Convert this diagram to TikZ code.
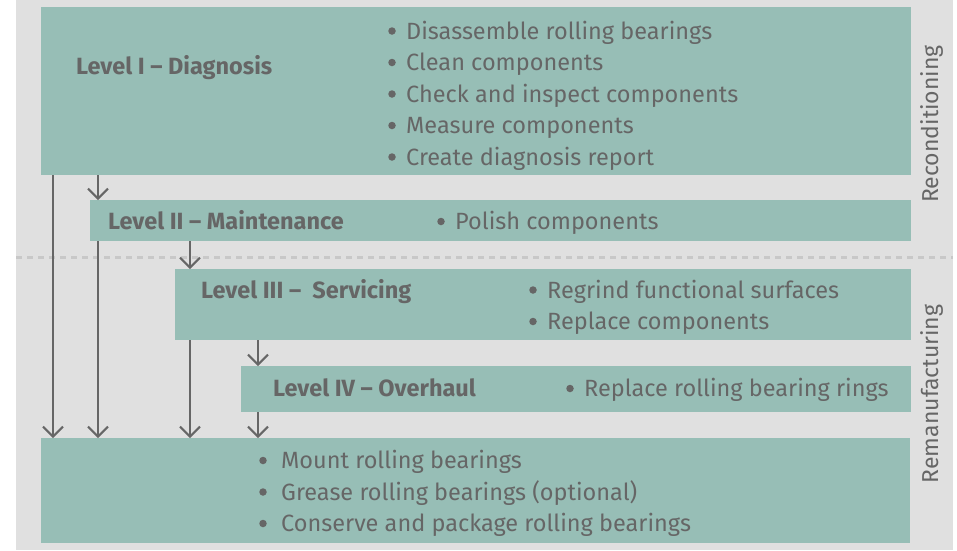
\documentclass[tikz,border=0pt]{standalone}
\usepackage{fontspec}
\setmainfont{Fira Sans}
\usetikzlibrary{arrows.meta}
\definecolor{bgc}{HTML}{E0E0E0}
\definecolor{boxc}{HTML}{97BEB6}
\definecolor{txtc}{HTML}{666666}
\definecolor{dotc}{HTML}{C8C8C8}
\begin{document}
\begin{tikzpicture}[x=1pt,y=-1pt,
  box/.style={fill=boxc, draw=none, inner sep=0pt, anchor=north west},
  lvl/.style={anchor=base west, inner sep=0pt, text=txtc, font=\fontsize{23.5}{28}\selectfont\bfseries},
  item/.style={anchor=base west, inner sep=0pt, text=txtc, font=\fontsize{23.5}{28}\selectfont},
  bul/.style={circle, fill=txtc, draw=none, inner sep=0pt, minimum size=7.5pt},
  side/.style={inner sep=0pt, text=txtc, rotate=90, font=\fontsize{23}{28}\selectfont},
  arr/.style={draw=txtc, line width=2pt, -{Straight Barb[length=10pt,width=20pt]}},
  sep/.style={draw=dotc, line width=3pt, dash pattern=on 6pt off 5pt}
]
\useasboundingbox (0,0) rectangle (957,550);
\fill[bgc] (16,0) rectangle (953,550);

\node[box, minimum width=870pt, minimum height=168pt] (b1) at (41,7) {};
\node[box, minimum width=821pt, minimum height=41pt] (b2) at (90,200) {};
\node[box, minimum width=736pt, minimum height=71pt] (b3) at (175,269) {};
\node[box, minimum width=670pt, minimum height=46pt] (b4) at (241,366) {};
\node[box, minimum width=869pt, minimum height=105pt] (b5) at (41,438) {};

\coordinate (sl) at (16,257);
\coordinate (sr) at (953,257);
\draw[sep] (sl) -- (sr);

\coordinate (xa) at (53,0);
\coordinate (xb) at (98,0);
\coordinate (xc) at (190,0);
\coordinate (xd) at (258,0);
\draw[arr] (xa |- b1.south) -- (xa |- b5.north);
\draw[arr] (xb |- b1.south) -- (xb |- b2.north);
\draw[arr] (xb |- b2.south) -- (xb |- b5.north);
\draw[arr] (xc |- b2.south) -- (xc |- b3.north);
\draw[arr] (xc |- b3.south) -- (xc |- b5.north);
\draw[arr] (xd |- b3.south) -- (xd |- b4.north);
\draw[arr] (xd |- b4.south) -- (xd |- b5.north);

% Level I
\node[lvl] (l1) at (76,74) {Level I – Diagnosis};
\node[bul] (d11) at (392,31) {};
\node[item] (i11) at (406,39) {Disassemble rolling bearings};
\node[bul] (d12) at (392,62.5) {};
\node[item] (i12) at (406,70.5) {Clean components};
\node[bul] (d13) at (392,94) {};
\node[item] (i13) at (406,102) {Check and inspect components};
\node[bul] (d14) at (392,125.5) {};
\node[item] (i14) at (406,133.5) {Measure components};
\node[bul] (d15) at (392,157) {};
\node[item] (i15) at (406,165) {Create diagnosis report};
% Level II
\node[lvl] (l2) at (108,229.5) {Level II – Maintenance};
\node[bul] (d21) at (441,221.5) {};
\node[item] (i21) at (455,229.5) {Polish components};
% Level III
\node[lvl] (l3) at (201,298) {Level III –\ \ Servicing};
\node[bul] (d31) at (533,290) {};
\node[item] (i31) at (547,298) {Regrind functional surfaces};
\node[bul] (d32) at (533,321.5) {};
\node[item] (i32) at (547,329.5) {Replace components};
% Level IV
\node[lvl] (l4) at (273,396.5) {Level IV – Overhaul};
\node[bul] (d41) at (570,388.5) {};
\node[item] (i41) at (584,396.5) {Replace rolling bearing rings};
% bottom
\node[bul] (d51) at (263,460.5) {};
\node[item] (i51) at (281,468.5) {Mount rolling bearings};
\node[bul] (d52) at (263,492) {};
\node[item] (i52) at (281,500) {Grease rolling bearings (optional)};
\node[bul] (d53) at (263,523.5) {};
\node[item] (i53) at (281,531.5) {Conserve and package rolling bearings};

\node[side] (s1) at (932,124) {Reconditioning};
\node[side] (s2) at (932,394) {Remanufacturing};
\end{tikzpicture}
\end{document}
